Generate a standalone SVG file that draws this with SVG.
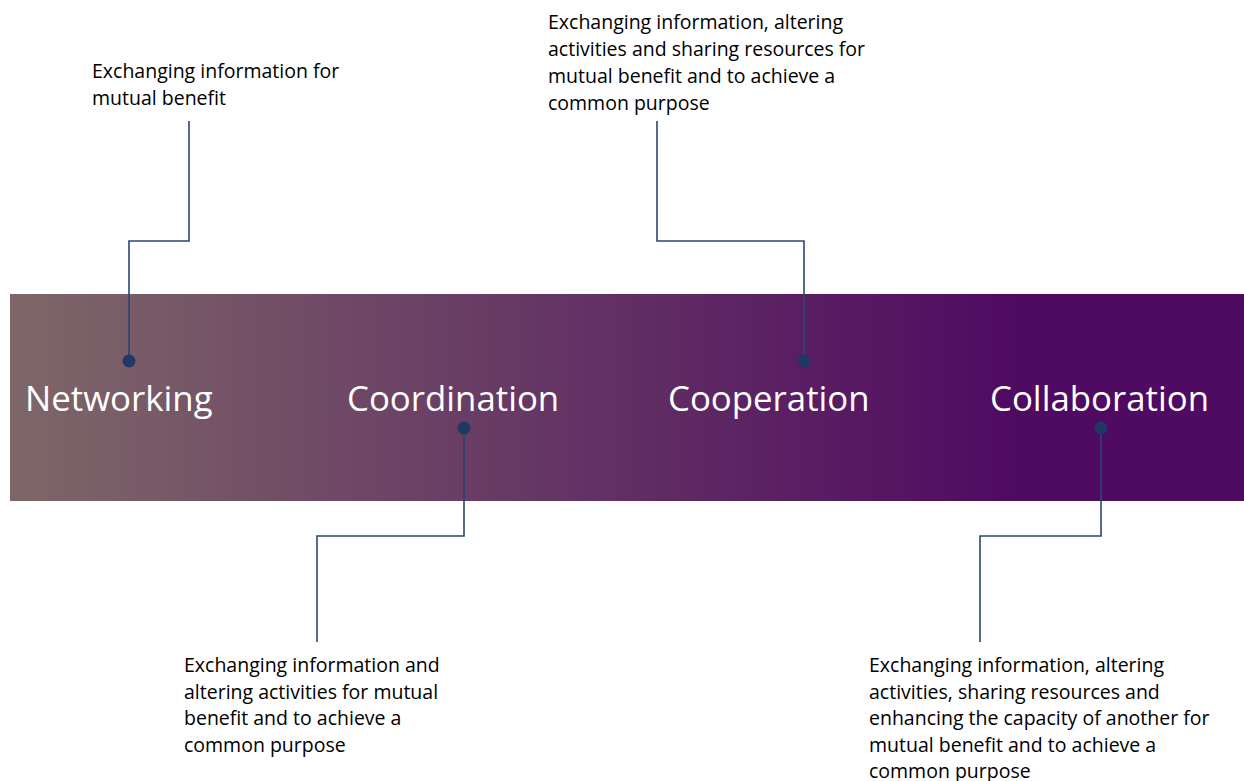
<svg xmlns="http://www.w3.org/2000/svg" width="1244" height="781" viewBox="0 0 1244 781">
<defs>
<linearGradient id="bar" x1="10" y1="0" x2="1244" y2="0" gradientUnits="userSpaceOnUse">
<stop offset="0" stop-color="#7E6768"/>
<stop offset="0.82" stop-color="#4F0A61"/>
<stop offset="1" stop-color="#4F0A61"/>
</linearGradient>
<style>
.lbl{font-family:"Open Sans","Liberation Sans",sans-serif;font-size:34.8px;fill:#FFFFFF}
.desc{font-family:"Open Sans","Liberation Sans",sans-serif;font-size:19.5px;fill:#000000}
.con{fill:none;stroke:#2A4573;stroke-width:1.6}
.dot{fill:#1F3864}
</style>
</defs>
<rect x="10" y="294" width="1234" height="207" fill="url(#bar)"/>
<g id="connectors">
<polyline class="con" points="129,361 129,241 189,241 189,121"/>
<polyline class="con" points="804,361 804,241 657,241 657,121"/>
<polyline class="con" points="464,428 464,536 317,536 317,642"/>
<polyline class="con" points="1101,428 1101,536 980,536 980,642"/>
<circle class="dot" cx="129" cy="361" r="6.5"/>
<circle class="dot" cx="804" cy="361" r="6.5"/>
<circle class="dot" cx="464" cy="428" r="6.5"/>
<circle class="dot" cx="1101" cy="428" r="6.5"/>
</g>
<g id="networking">
<text class="lbl" x="25" y="411">Networking</text>
<text class="desc" x="92" y="78">Exchanging information for</text>
<text class="desc" x="92" y="105">mutual benefit</text>
</g>
<g id="coordination">
<text class="lbl" x="347" y="411">Coordination</text>
<text class="desc" x="184" y="672">Exchanging information and</text>
<text class="desc" x="184" y="699">altering activities for mutual</text>
<text class="desc" x="184" y="725">benefit and to achieve a</text>
<text class="desc" x="184" y="752">common purpose</text>
</g>
<g id="cooperation">
<text class="lbl" x="668" y="411">Cooperation</text>
<text class="desc" x="548" y="29">Exchanging information, altering</text>
<text class="desc" x="548" y="56">activities and sharing resources for</text>
<text class="desc" x="548" y="83">mutual benefit and to achieve a</text>
<text class="desc" x="548" y="110">common purpose</text>
</g>
<g id="collaboration">
<text class="lbl" x="990" y="411">Collaboration</text>
<text class="desc" x="869" y="672">Exchanging information, altering</text>
<text class="desc" x="869" y="699">activities, sharing resources and</text>
<text class="desc" x="869" y="725">enhancing the capacity of another for</text>
<text class="desc" x="869" y="752">mutual benefit and to achieve a</text>
<text class="desc" x="869" y="778">common purpose</text>
</g>
</svg>
